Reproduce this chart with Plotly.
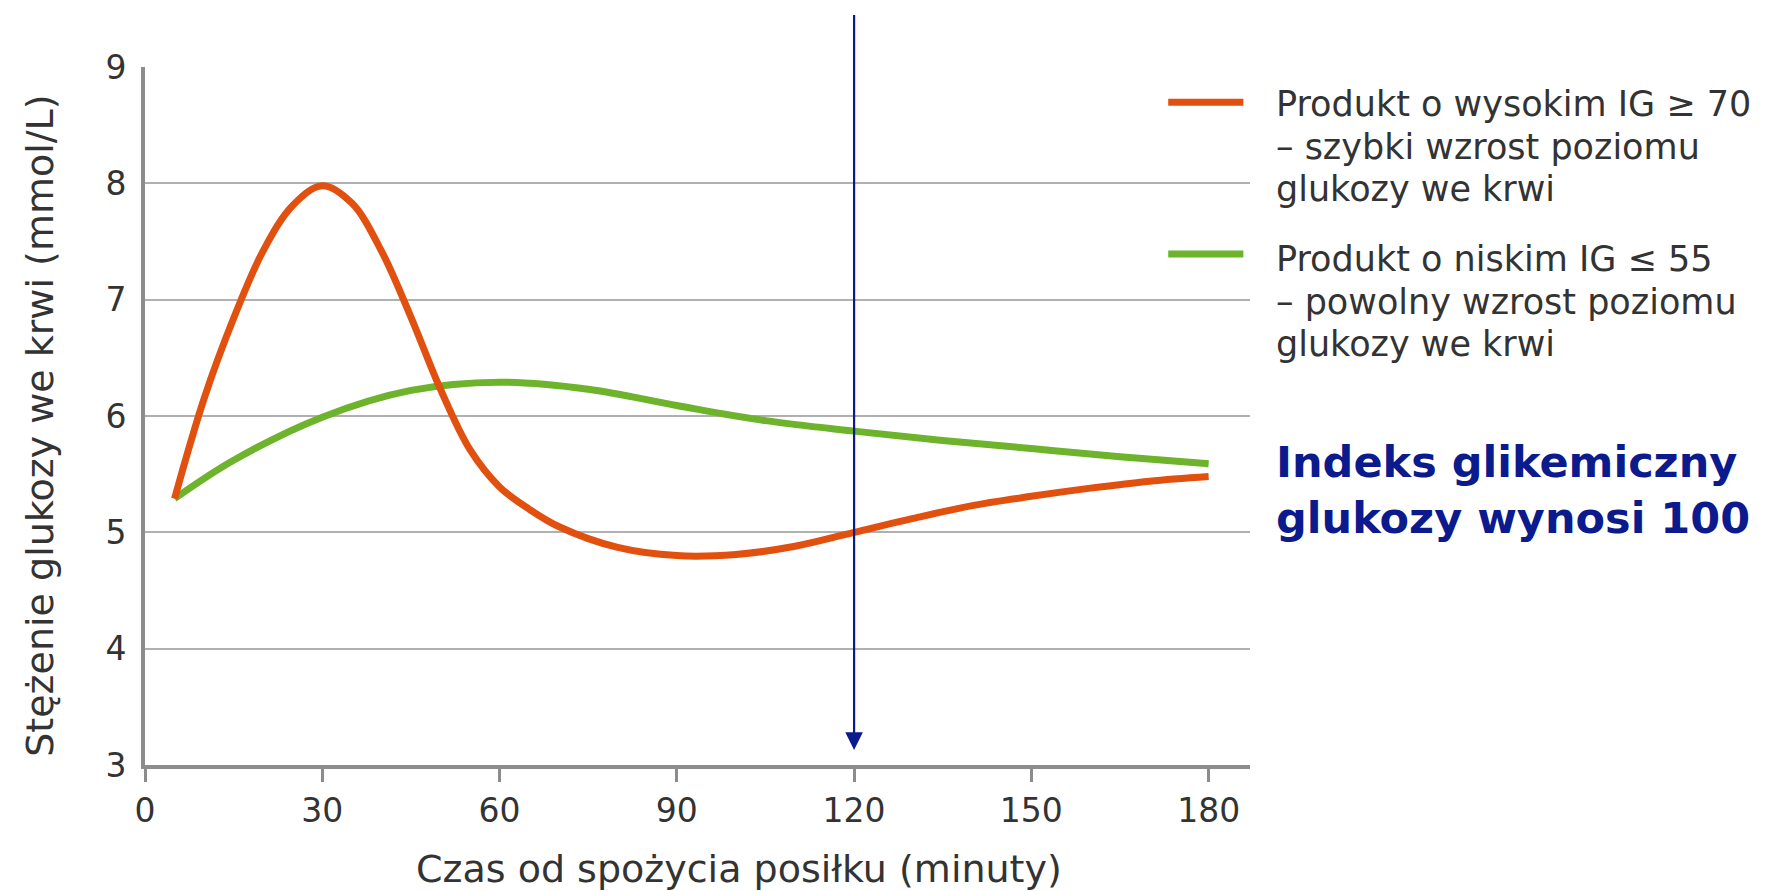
import plotly.graph_objects as go

# ---- data ----
times_high = [5, 10, 15, 20, 25, 30, 35, 40, 45, 50, 55, 60, 65, 70, 80, 90, 100, 110, 120, 130, 140, 150, 160, 170, 180]
glucose_high = [5.29, 6.15, 6.84, 7.42, 7.81, 7.98, 7.83, 7.42, 6.85, 6.23, 5.71, 5.39, 5.2, 5.05, 4.87, 4.80, 4.81, 4.88, 5.0, 5.12, 5.23, 5.31, 5.38, 5.44, 5.48]

times_low = [5, 15, 30, 45, 60, 75, 90, 105, 120, 135, 150, 165, 180]
glucose_low = [5.29, 5.62, 5.99, 6.22, 6.29, 6.23, 6.09, 5.96, 5.87, 5.79, 5.72, 5.65, 5.59]

x_ticks = [0, 30, 60, 90, 120, 150, 180]
y_ticks = [3, 4, 5, 6, 7, 8, 9]
marker_time = 120

label_high_lines = ["Produkt o wysokim IG ≥ 70", "– szybki wzrost poziomu", "glukozy we krwi"]
label_low_lines = ["Produkt o niskim IG ≤ 55", "– powolny wzrost poziomu", "glukozy we krwi"]
note_lines = ["Indeks glikemiczny", "glukozy wynosi 100"]
x_title = "Czas od spożycia posiłku (minuty)"
y_title = "Stężenie glukozy we krwi (mmol/L)"

ORANGE = "#e2500f"
GREEN = "#6db32b"
NAVY = "#0b1a8c"
TEXT = "#333333"
AXIS = "#8c8c8c"
GRID = "#b0b0b0"
FONT = "DejaVu Sans"

fig = go.Figure()
fig.add_trace(go.Scatter(x=times_low, y=glucose_low, mode="lines",
                         line=dict(color=GREEN, width=7, shape="spline", smoothing=1.0),
                         showlegend=False, hoverinfo="skip"))
fig.add_trace(go.Scatter(x=times_high, y=glucose_high, mode="lines",
                         line=dict(color=ORANGE, width=7, shape="spline", smoothing=1.0),
                         showlegend=False, hoverinfo="skip"))

# vertical arrow at the marker time
fig.add_annotation(x=marker_time, y=3.13, ax=marker_time, ay=9.46, axref="x", ayref="y",
                   xref="x", yref="y", text="", showarrow=True,
                   arrowhead=2, arrowsize=1.6, arrowwidth=2.2, arrowcolor=NAVY)

# legend (custom): sample line + text lines
legend_items = [
    (0.9496, ORANGE, label_high_lines, [0.9467, 0.8849, 0.8248]),
    (0.732, GREEN, label_low_lines, [0.7248, 0.6632, 0.6031]),
]
for ycen, col, lines, ys in legend_items:
    fig.add_shape(type="line", xref="paper", yref="paper", x0=0.926, x1=0.994, y0=ycen, y1=ycen,
                  line=dict(color=col, width=7))
    for txt, yy in zip(lines, ys):
        fig.add_annotation(xref="paper", yref="paper", x=1.0215, y=yy, xanchor="left", yanchor="middle",
                           text=txt, align="left", showarrow=False,
                           font=dict(family=FONT, size=35, color=TEXT))

for txt, yy in zip(note_lines, [0.4343, 0.3540]):
    fig.add_annotation(xref="paper", yref="paper", x=1.0215, y=yy, xanchor="left", yanchor="middle",
                       text=f"<b>{txt}</b>", align="left", showarrow=False,
                       font=dict(family=FONT, size=43, color=NAVY))

# axis titles
fig.add_annotation(xref="paper", yref="paper", x=0.538, y=-0.149, xanchor="center", yanchor="middle",
                   text=x_title, showarrow=False, font=dict(family=FONT, size=38, color=TEXT))
fig.add_annotation(xref="paper", yref="paper", x=-0.095, y=0.486, xanchor="center", yanchor="middle",
                   text=y_title, textangle=-90, showarrow=False, font=dict(family=FONT, size=38, color=TEXT))

fig.update_xaxes(range=[0, 187], tickvals=x_ticks, ticktext=[str(v) for v in x_ticks],
                 showgrid=False, zeroline=False, showline=True, linecolor=AXIS, linewidth=4,
                 ticks="outside", ticklen=13, tickwidth=3, tickcolor=AXIS,
                 tickfont=dict(family=FONT, size=33, color=TEXT))
fig.update_yaxes(range=[3, 9], tickvals=y_ticks, ticktext=[str(v) for v in y_ticks],
                 showgrid=True, gridcolor=GRID, gridwidth=1.5, zeroline=False,
                 showline=True, linecolor=AXIS, linewidth=4, ticks="", ticklabelstandoff=8,
                 tickfont=dict(family=FONT, size=33, color=TEXT))

fig.update_layout(width=1767, height=883, margin=dict(l=137, r=525, t=59, b=126),
                  plot_bgcolor="white", paper_bgcolor="white",
                  font=dict(family=FONT, color=TEXT))

fig.write_html("out.html")
